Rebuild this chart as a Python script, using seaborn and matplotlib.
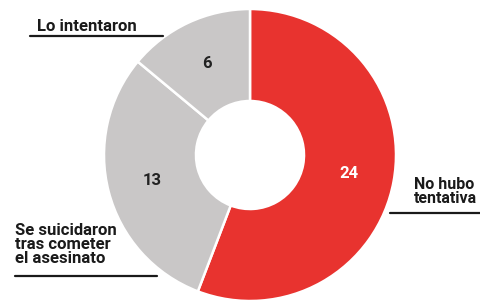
"""
Donut chart: outcome of attempts (recreated)
"""

import matplotlib
matplotlib.use("Agg")
import numpy as np
import matplotlib.pyplot as plt
from matplotlib.lines import Line2D
import seaborn as sns

# Data
categories = ["No hubo tentativa", "Se suicidaron tras cometer el asesinato", "Lo intentaron"]
values = [24, 13, 6]
colors = ["#e8332f", "#c9c7c7", "#c9c7c7"]
label_colors = ["white", "#222222", "#222222"]

sns.set_theme(style="white")
plt.rcParams["font.family"] = ["Liberation Sans Narrow", "Roboto", "DejaVu Sans"]

W, H = 481, 304
fig = plt.figure(figsize=(W / 100, H / 100), dpi=100)

# donut centre and radius in pixels
cx, cy, r = 250, 155, 146
ax = fig.add_axes([(cx - r) / W, (H - cy - r) / H, 2 * r / W, 2 * r / H])

wedges, _ = ax.pie(values, colors=colors, startangle=90, counterclock=False,
                   radius=1, wedgeprops=dict(width=0.63, edgecolor="white", linewidth=1.8))

# value labels in the ring
for v, w, c in zip(values, wedges, label_colors):
    mid = np.deg2rad((w.theta1 + w.theta2) / 2)
    ax.text(0.69 * np.cos(mid), 0.69 * np.sin(mid), str(v), ha="center", va="center",
            fontsize=12, fontweight="bold", color=c)

ax.set_xlim(-1, 1)
ax.set_ylim(-1, 1)
ax.set_aspect("equal")
ax.axis("off")


def fy(py):
    return 1 - py / H


# category labels with underline rules
fig.text(37 / W, fy(31), "Lo intentaron", fontsize=12, fontweight="bold", color="#1a1a1a", va="baseline")
fig.add_artist(Line2D([30 / W, 163 / W], [fy(36), fy(36)], color="#1a1a1a", lw=1.6))

fig.text(15 / W, fy(263), "Se suicidaron\ntras cometer\nel asesinato", fontsize=12,
         fontweight="bold", color="#1a1a1a", va="baseline", linespacing=0.92)
fig.add_artist(Line2D([15 / W, 157 / W], [fy(276), fy(276)], color="#1a1a1a", lw=1.6))

fig.text(414 / W, fy(203), "No hubo\ntentativa", fontsize=11.5, fontweight="bold",
         color="#1a1a1a", va="baseline", linespacing=0.95)
fig.add_artist(Line2D([390 / W, 1.0], [fy(213), fy(213)], color="#1a1a1a", lw=1.6))

fig.savefig("out.png", dpi=100, facecolor="white")
